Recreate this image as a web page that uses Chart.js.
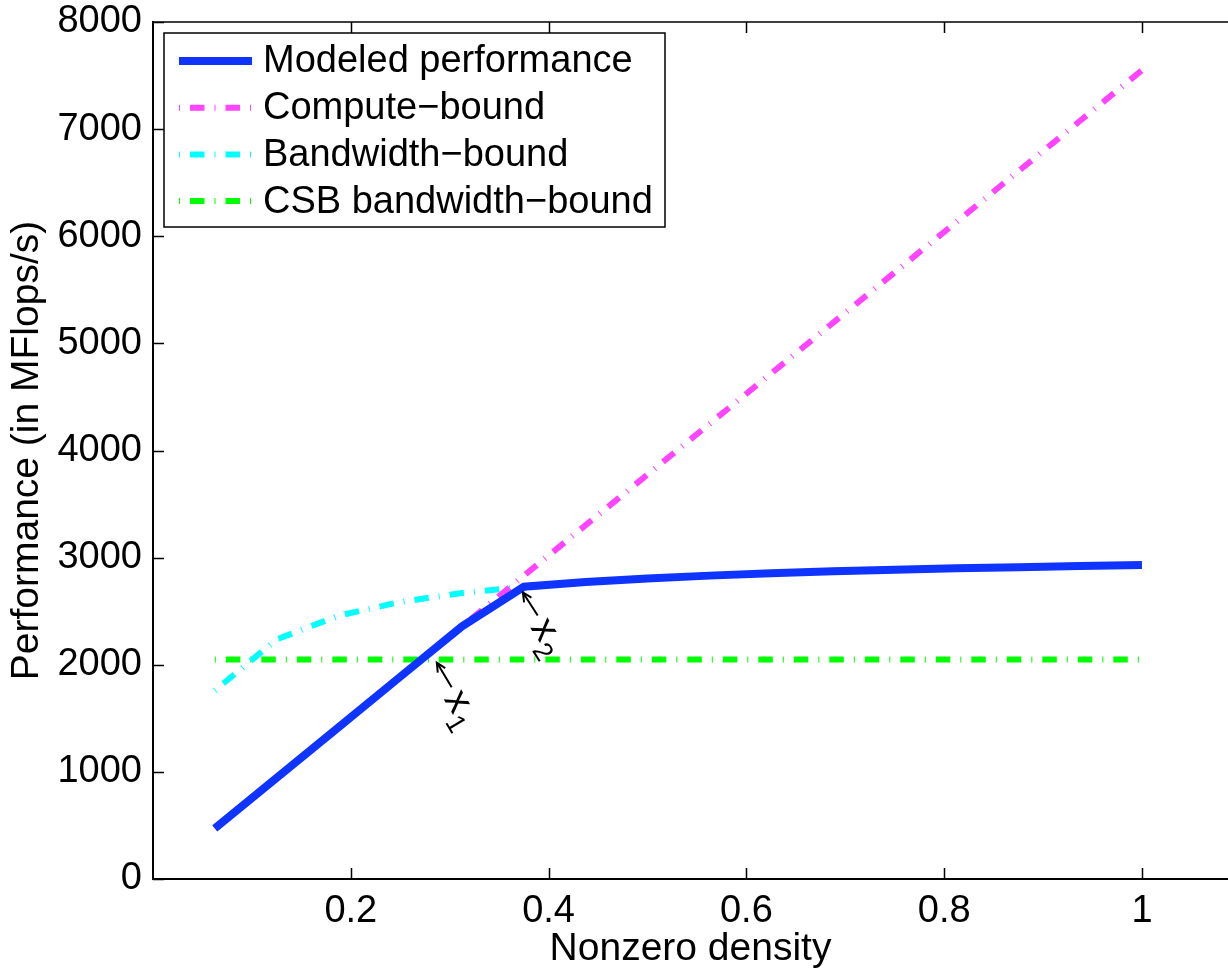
<!DOCTYPE html>
<html>
<head>
<meta charset="utf-8">
<script src="https://cdn.jsdelivr.net/npm/chart.js@4.4.0/dist/chart.umd.min.js"></script>
<style>
  body { margin: 0; background: #fff; }
</style>
</head>
<body>
<canvas id="grafico" width="1228" height="969"></canvas>
<script>
// densidade (eixo x) e as quatro curvas
var densidade = [0.0625, 0.125, 0.1875, 0.25, 0.3125, 0.375, 0.4375, 0.5,
  0.5625, 0.625, 0.6875, 0.75, 0.8125, 0.875, 0.9375, 1];
var modelado = [472, 944, 1416, 1888, 2359, 2728, 2772, 2805,
  2832, 2854, 2872, 2887, 2900, 2911, 2921, 2930];
var limiteComputacao = [472, 944, 1416, 1888, 2359, 2831, 3303, 3775,
  4247, 4719, 5191, 5663, 6134, 6606, 7078, 7550];
var limiteBanda = [1760, 2236, 2458, 2586, 2670, 2728, 2772, 2805,
  2832, 2854, 2872, 2887, 2900, 2911, 2921, 2930];
var limiteBandaCSB = [2050, 2050, 2050, 2050, 2050, 2050, 2050, 2050,
  2050, 2050, 2050, 2050, 2050, 2050, 2050, 2050];

var ticksX = [0.2, 0.4, 0.6, 0.8, 1];
var ticksY = [0, 1000, 2000, 3000, 4000, 5000, 6000, 7000, 8000];

var rotulos = ['Modeled performance', 'Compute\u2212bound', 'Bandwidth\u2212bound', 'CSB bandwidth\u2212bound'];

// setas x1 e x2 (ponta e cauda em coordenadas dos dados)
var setas = [
  { ponta: [0.287, 2020], cauda: [0.302, 1790], sub: '1' },
  { ponta: [0.374, 2675], cauda: [0.389, 2460], sub: '2' }
];

var fonte = '"Liberation Sans", Arial, Helvetica, sans-serif';
var tracoPonto = [1, 10, 14.5, 10];

function pares(ys) {
  var r = [];
  for (var i = 0; i < densidade.length; i++) {
    r.push({ x: densidade[i], y: ys[i] });
  }
  return r;
}

// ticks para dentro nos quatro lados + borda superior
var ticksDentro = {
  id: 'ticksDentro',
  afterDatasetsDraw: function (chart) {
    var ctx = chart.ctx, a = chart.chartArea;
    var sx = chart.scales.x, sy = chart.scales.y;
    ctx.save();
    ctx.strokeStyle = '#000';
    ctx.lineWidth = 1.5;
    ctx.beginPath();
    ctx.moveTo(a.left, a.top);
    ctx.lineTo(a.right, a.top);
    ticksX.forEach(function (v) {
      var px = Math.round(sx.getPixelForValue(v)) + 0.5;
      ctx.moveTo(px, a.bottom); ctx.lineTo(px, a.bottom - 11);
      ctx.moveTo(px, a.top); ctx.lineTo(px, a.top + 11);
    });
    ticksY.forEach(function (v) {
      var py = Math.round(sy.getPixelForValue(v)) + 0.5;
      ctx.moveTo(a.left, py); ctx.lineTo(a.left + 11, py);
    });
    ctx.stroke();
    ctx.restore();
  }
};

// legenda em caixa no canto superior esquerdo
var legendaCaixa = {
  id: 'legendaCaixa',
  afterDraw: function (chart) {
    var ctx = chart.ctx;
    var x0 = 164, y0 = 33, w = 501, h = 194;
    ctx.save();
    ctx.fillStyle = '#fff';
    ctx.fillRect(x0, y0, w, h);
    ctx.strokeStyle = '#000';
    ctx.lineWidth = 1.5;
    ctx.strokeRect(x0, y0, w, h);
    ctx.font = '38px ' + fonte;
    ctx.textBaseline = 'middle';
    chart.data.datasets.forEach(function (ds, i) {
      var y = 61 + i * 46.7;
      ctx.beginPath();
      ctx.strokeStyle = ds.borderColor;
      ctx.lineWidth = ds.borderWidth;
      ctx.setLineDash(ds.borderDash || []);
      ctx.moveTo(179, y);
      ctx.lineTo(252, y);
      ctx.stroke();
      ctx.setLineDash([]);
      ctx.fillStyle = '#000';
      ctx.fillText(ds.label, 263, y + 1);
    });
    ctx.restore();
  }
};

// setas com texto rotacionado (x1, x2)
var anotacoes = {
  id: 'anotacoes',
  afterDraw: function (chart) {
    var ctx = chart.ctx;
    var sx = chart.scales.x, sy = chart.scales.y;
    ctx.save();
    ctx.strokeStyle = '#000';
    ctx.fillStyle = '#000';
    ctx.lineWidth = 2;
    setas.forEach(function (s) {
      var px = sx.getPixelForValue(s.ponta[0]), py = sy.getPixelForValue(s.ponta[1]);
      var qx = sx.getPixelForValue(s.cauda[0]), qy = sy.getPixelForValue(s.cauda[1]);
      var ang = Math.atan2(qy - py, qx - px);
      ctx.beginPath();
      ctx.moveTo(qx, qy);
      ctx.lineTo(px, py);
      ctx.moveTo(px + 10 * Math.cos(ang + 0.45), py + 10 * Math.sin(ang + 0.45));
      ctx.lineTo(px, py);
      ctx.lineTo(px + 10 * Math.cos(ang - 0.45), py + 10 * Math.sin(ang - 0.45));
      ctx.stroke();
      ctx.save();
      ctx.translate(qx, qy);
      ctx.rotate(ang);
      ctx.textBaseline = 'alphabetic';
      ctx.font = '38px ' + fonte;
      ctx.fillText('x', 6, 13);
      var lx = ctx.measureText('x').width;
      ctx.font = '27px ' + fonte;
      ctx.fillText(s.sub, 6 + lx + 1, 24);
      ctx.restore();
    });
    ctx.restore();
  }
};

var ctx = document.getElementById('grafico').getContext('2d');
var chart = new Chart(ctx, {
  type: 'line',
  data: {
    datasets: [
      {
        label: rotulos[0],
        data: pares(modelado),
        borderColor: '#1034ff',
        borderWidth: 8,
        borderJoinStyle: 'miter'
      },
      {
        label: rotulos[1],
        data: pares(limiteComputacao),
        borderColor: '#ff44ff',
        borderWidth: 6,
        borderDash: tracoPonto
      },
      {
        label: rotulos[2],
        data: pares(limiteBanda),
        borderColor: '#00ffff',
        borderWidth: 6,
        borderDash: tracoPonto
      },
      {
        label: rotulos[3],
        data: pares(limiteBandaCSB),
        borderColor: '#00ff00',
        borderWidth: 6,
        borderDash: tracoPonto
      }
    ]
  },
  options: {
    responsive: false,
    animation: false,
    devicePixelRatio: 1,
    elements: { point: { radius: 0 }, line: { tension: 0, fill: false } },
    layout: { padding: { left: 0, top: 20, right: 0, bottom: 0 } },
    plugins: {
      legend: { display: false },
      tooltip: { enabled: false }
    },
    scales: {
      x: {
        type: 'linear',
        min: 0,
        max: 1.087,
        afterBuildTicks: function (axis) {
          axis.ticks = ticksX.map(function (v) { return { value: v }; });
        },
        afterFit: function (scale) { scale.height = 90; },
        grid: { display: false },
        border: { display: true, color: '#000', width: 2 },
        ticks: {
          color: '#000',
          font: { family: fonte, size: 38 },
          padding: 2,
          maxRotation: 0,
          callback: function (v) { return String(v); }
        },
        title: {
          display: true,
          text: 'Nonzero density',
          color: '#000',
          font: { family: fonte, size: 39 },
          padding: { top: 0, bottom: -4 }
        }
      },
      y: {
        min: 0,
        max: 8000,
        afterBuildTicks: function (axis) {
          axis.ticks = ticksY.map(function (v) { return { value: v }; });
        },
        afterFit: function (scale) { scale.width = 153; },
        grid: { display: false },
        border: { display: true, color: '#000', width: 2 },
        ticks: {
          color: '#000',
          font: { family: fonte, size: 38, lineHeight: 1 },
          padding: 3,
          callback: function (v) { return String(v); }
        },
        title: {
          display: true,
          text: 'Performance (in MFlops/s)',
          color: '#000',
          font: { family: fonte, size: 39 },
          padding: { top: 4, bottom: 0 }
        }
      }
    }
  },
  plugins: [ticksDentro, legendaCaixa, anotacoes]
});
</script>
</body>
</html>
